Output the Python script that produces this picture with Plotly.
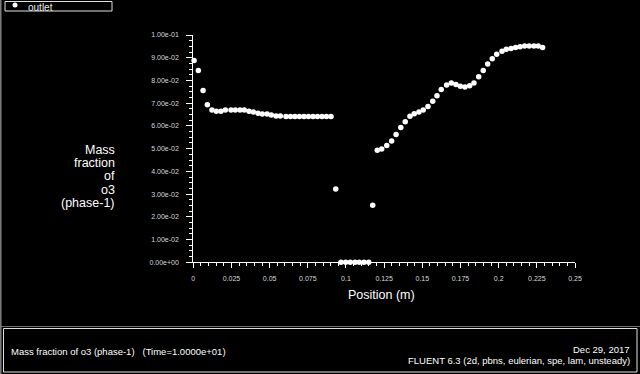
import plotly.graph_objects as go

# ---- data ----
position_m = [
    0.0005, 0.0033, 0.0064, 0.0092, 0.0122, 0.0151, 0.0181, 0.0210, 0.0247, 0.0275,
    0.0306, 0.0334, 0.0365, 0.0393, 0.0424, 0.0452, 0.0483, 0.0511, 0.0542, 0.0570,
    0.0607, 0.0637, 0.0666, 0.0695, 0.0725, 0.0754, 0.0784, 0.0813, 0.0843, 0.0872,
    0.0902,
    0.0933,
    0.0967, 0.0998, 0.1028, 0.1059, 0.1087, 0.1118, 0.1149,
    0.1175,
    0.1205, 0.1234, 0.1267, 0.1299, 0.1328, 0.1359, 0.1388, 0.1419, 0.1447, 0.1478,
    0.1506, 0.1537, 0.1568, 0.1596, 0.1624, 0.1659, 0.1690, 0.1720, 0.1749, 0.1779,
    0.1810, 0.1838, 0.1869, 0.1899, 0.1928, 0.1958, 0.1987, 0.2022, 0.2050, 0.2081,
    0.2111, 0.2140, 0.2170, 0.2200, 0.2231, 0.2259, 0.2288,
]
mass_fraction_o3 = [
    0.0888, 0.0844, 0.0756, 0.0693, 0.0670, 0.0665, 0.0665, 0.0670, 0.0670, 0.0670,
    0.0670, 0.0670, 0.0665, 0.0661, 0.0656, 0.0652, 0.0652, 0.0648, 0.0644, 0.0644,
    0.0641, 0.0641, 0.0641, 0.0641, 0.0641, 0.0641, 0.0641, 0.0641, 0.0641, 0.0641,
    0.0641,
    0.0323,
    0.0, 0.0, 0.0, 0.0, 0.0, 0.0, 0.0,
    0.0251,
    0.0493, 0.0498, 0.0514, 0.0534, 0.0562, 0.0593, 0.0618, 0.0643, 0.0653, 0.0661,
    0.0670, 0.0685, 0.0709, 0.0733, 0.0760, 0.0780, 0.0789, 0.0782, 0.0775, 0.0771,
    0.0777, 0.0789, 0.0816, 0.0844, 0.0872, 0.0896, 0.0915, 0.0928, 0.0937, 0.0941,
    0.0945, 0.0948, 0.0952, 0.0952, 0.0952, 0.0952, 0.0945,
]
x_tick_vals = [0, 0.025, 0.05, 0.075, 0.1, 0.125, 0.15, 0.175, 0.2, 0.225, 0.25]
x_tick_text = ["0", "0.025", "0.05", "0.075", "0.1", "0.125", "0.15", "0.175", "0.2", "0.225", "0.25"]
y_tick_vals = [0, 0.01, 0.02, 0.03, 0.04, 0.05, 0.06, 0.07, 0.08, 0.09, 0.1]
y_tick_text = ["0.00e+00", "1.00e-02", "2.00e-02", "3.00e-02", "4.00e-02", "5.00e-02",
               "6.00e-02", "7.00e-02", "8.00e-02", "9.00e-02", "1.00e-01"]
y_title_lines = ["Mass", "fraction", "of", "o3", "(phase-1)"]
x_title = "Position (m)"
legend_name = "outlet"
footer_left = "Mass fraction of o3 (phase-1)   (Time=1.0000e+01)"
footer_date = "Dec 29, 2017"
footer_solver = "FLUENT 6.3 (2d, pbns, eulerian, spe, lam, unsteady)"

W, H = 640, 374
FONT = "Liberation Sans, Arial, sans-serif"


def px(x):
    return x / W


def py(y):
    return (H - y) / H


fig = go.Figure()
fig.add_trace(go.Scatter(
    x=position_m, y=mass_fraction_o3, mode="markers", name=legend_name,
    marker=dict(color="white", size=5.5, line=dict(width=0)),
    cliponaxis=False, showlegend=False,
))

axis_common = dict(
    showgrid=False, zeroline=False, showline=True, linecolor="white", linewidth=1,
    ticks="outside", tickcolor="white", tickwidth=1,
    tickfont=dict(family=FONT, size=7, color="#d8d8d8"), automargin=False,
)

fig.update_layout(
    width=W, height=H,
    margin=dict(l=0, r=0, t=0, b=0),
    paper_bgcolor="black", plot_bgcolor="black",
    xaxis=dict(
        **axis_common, range=[0, 0.25], domain=[px(193.3), px(575)],
        tickvals=x_tick_vals, ticktext=x_tick_text, ticklen=5,
        ticklabelstandoff=4,
        minor=dict(dtick=0.005, tick0=0, ticks="outside", ticklen=3, tickcolor="white"),
    ),
    yaxis=dict(
        **axis_common, range=[0, 0.1], domain=[py(262.3), py(35)],
        tickvals=y_tick_vals, ticktext=y_tick_text, ticklen=6,
        ticklabelstandoff=6,
        minor=dict(dtick=0.0025, tick0=0, ticks="outside", ticklen=3, tickcolor="white"),
    ),
    showlegend=False,
)

annotations = []
# y axis title, right aligned, tight line spacing
for i, line in enumerate(y_title_lines):
    annotations.append(dict(
        xref="paper", yref="paper", x=px(117), y=py(150 + 13.2 * i),
        text=line, showarrow=False, xanchor="right", yanchor="middle",
        font=dict(family=FONT, size=12.5, color="white"),
    ))
annotations.append(dict(
    xref="paper", yref="paper", x=px(381), y=py(295), text=x_title, showarrow=False,
    xanchor="center", yanchor="middle", font=dict(family=FONT, size=12.5, color="white"),
))
# legend
annotations.append(dict(
    xref="paper", yref="paper", x=px(26), y=py(7.5), text=legend_name, showarrow=False,
    xanchor="left", yanchor="middle", font=dict(family=FONT, size=10, color="#e8e8e8"),
))
# footer
annotations.append(dict(
    xref="paper", yref="paper", x=px(9), y=py(351.5), text=footer_left, showarrow=False,
    xanchor="left", yanchor="middle", font=dict(family=FONT, size=9.5, color="white"),
))
annotations.append(dict(
    xref="paper", yref="paper", x=px(632), y=py(349), text=footer_date, showarrow=False,
    xanchor="right", yanchor="middle", font=dict(family=FONT, size=9.5, color="white"),
))
annotations.append(dict(
    xref="paper", yref="paper", x=px(632), y=py(360.5), text=footer_solver, showarrow=False,
    xanchor="right", yanchor="middle", font=dict(family=FONT, size=9.5, color="white"),
))
fig.update_layout(annotations=annotations)

shapes = [
    # legend box
    dict(type="rect", xref="paper", yref="paper", x0=px(5), x1=px(112), y0=py(11), y1=py(1.5),
         line=dict(color="#e0e0e0", width=1), fillcolor="rgba(0,0,0,0)"),
    dict(type="circle", xref="paper", yref="paper", x0=px(12.5), x1=px(17.5), y0=py(7.5), y1=py(2.5),
         line=dict(color="white", width=0), fillcolor="white"),
    # footer panel
    dict(type="line", xref="paper", yref="paper", x0=0, x1=1, y0=py(326.5), y1=py(326.5),
         line=dict(color="#707070", width=1)),
    dict(type="rect", xref="paper", yref="paper", x0=px(3.5), x1=px(637), y0=py(372), y1=py(328.5),
         line=dict(color="#e0e0e0", width=1), fillcolor="rgba(0,0,0,0)"),
    # window edge
    dict(type="line", xref="paper", yref="paper", x0=px(0.8), x1=px(0.8), y0=py(0), y1=py(374),
         line=dict(color="#808080", width=1.5)),
]
fig.update_layout(shapes=shapes)

fig.write_html(
    "out.html",
    config={"displayModeBar": False},
    post_script="document.body.style.margin='0';document.body.style.background='black';",
)
